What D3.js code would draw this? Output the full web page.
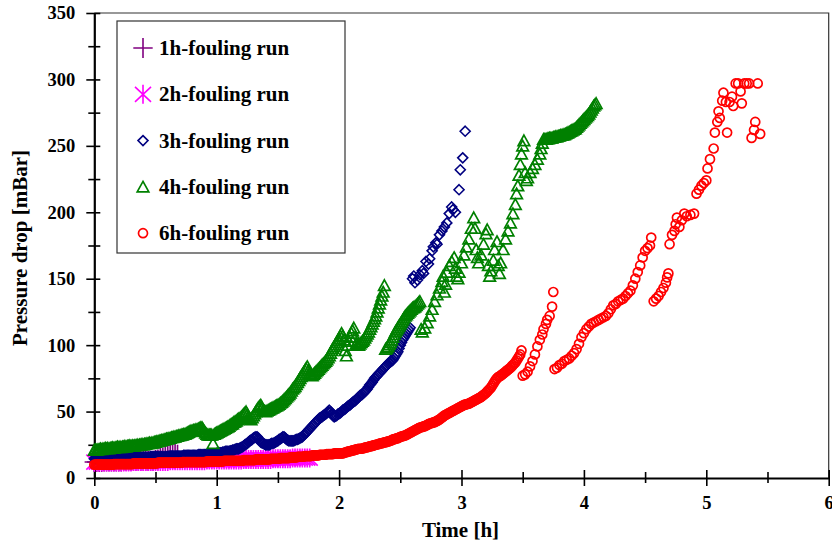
<!DOCTYPE html>
<html>
<head>
<meta charset="utf-8">
<script src="https://cdn.jsdelivr.net/npm/d3@7"></script>
<style>
  html, body { margin: 0; padding: 0; background: #fff; }
  svg { display: block; }
  text { font-family: "Liberation Serif", "Times New Roman", serif; font-weight: bold; fill: #000; }
</style>
</head>
<body>
<svg id="chart" width="832" height="544"></svg>
<script>
// Axis ticks
const xTicks = [0, 1, 2, 3, 4, 5, 6];
const xMinorTicks = [0.5, 1.5, 2.5, 3.5, 4.5, 5.5];
const yTicks = [0, 50, 100, 150, 200, 250, 300, 350];
const yMinorTicks = [25, 75, 125, 175, 225, 275, 325];

// Series names and colours
const runNames = ["1h-fouling run", "2h-fouling run", "3h-fouling run", "4h-fouling run", "6h-fouling run"];
const runColors = ["#800080", "#ff00ff", "#000080", "#008000", "#ff0000"];

// Measurements: [time (h), pressure drop (mBar)]
const run1h = [[0.00,12],[0.02,12],[0.04,12],[0.06,12],[0.08,12.5],[0.10,12.5],[0.12,12.5],[0.14,12.5],[0.16,12.5],[0.18,12.5],[0.20,12.5],[0.22,12.5],[0.24,13],[0.26,13],[0.28,13],[0.30,13],[0.32,13],[0.34,13],[0.36,13],[0.38,13],[0.40,13],[0.42,13],[0.44,13],[0.46,13],[0.48,13],[0.50,13.5],[0.52,14],[0.54,15],[0.56,15.5],[0.58,16.5],[0.60,17],[0.62,17.5],[0.64,17.5],[0.66,18],[0.68,17.5]];

const run2h = [[0.00,12],[0.02,12],[0.04,12],[0.06,12],[0.08,12],[0.10,12],[0.12,12],[0.14,12],[0.16,12],[0.18,12],[0.20,12],[0.22,12],[0.24,12],[0.26,12],[0.28,12],[0.30,12],[0.32,12.5],[0.34,12.5],[0.36,12.5],[0.38,12.5],[0.40,12.5],[0.42,12.5],[0.44,12.5],[0.46,12.5],[0.48,12.5],[0.50,12.5],[0.52,12.5],[0.54,12.5],[0.56,12.5],[0.58,12.5],[0.60,12.5],[0.62,13],[0.64,13],[0.66,13],[0.68,13],[0.70,13],[0.72,13],[0.74,13],[0.76,13],[0.78,13],[0.80,13],[0.82,13],[0.84,13],[0.86,13],[0.88,13],[0.90,13],[0.92,13.5],[0.94,13.5],[0.96,13.5],[0.98,13.5],[1.00,13.5],[1.02,13.5],[1.04,13.5],[1.06,13.5],[1.08,13.5],[1.10,13.5],[1.12,13.5],[1.14,13.5],[1.16,13.5],[1.18,13.5],[1.20,13.5],[1.22,14],[1.24,14],[1.26,14],[1.28,14],[1.30,14],[1.32,14],[1.34,14],[1.36,14],[1.38,14],[1.40,14],[1.42,14],[1.44,14],[1.46,14.5],[1.48,14.5],[1.50,14.5],[1.52,14.5],[1.54,14.5],[1.56,14.5],[1.58,14.5],[1.60,14.5],[1.62,15],[1.64,15],[1.66,15],[1.68,15],[1.70,15],[1.72,15],[1.74,15],[1.76,15]];

const run3h = [
  [0.00,14.5],[0.01,14.5],[0.02,14.5],[0.03,14.5],[0.04,14.5],[0.05,14.5],[0.06,14.5],[0.07,14.5],[0.08,14.5],[0.09,14.5],
  [0.10,14.5],[0.11,15],[0.12,15],[0.13,15],[0.14,15],[0.15,15],[0.16,15],[0.17,15],[0.18,15],[0.19,15],
  [0.20,15],[0.21,15],[0.22,15],[0.23,15],[0.24,15],[0.25,15],[0.26,15],[0.27,15],[0.28,15],[0.29,15],
  [0.30,15],[0.31,15.5],[0.32,15.5],[0.33,15.5],[0.34,15.5],[0.35,15.5],[0.36,15.5],[0.37,15.5],[0.38,15.5],[0.39,15.5],
  [0.40,15.5],[0.41,15.5],[0.42,15.5],[0.43,15.5],[0.44,15.5],[0.45,15.5],[0.46,16],[0.47,16],[0.48,16],[0.49,16],
  [0.50,16],[0.51,16],[0.52,16],[0.53,16],[0.54,16],[0.55,16],[0.56,16],[0.57,16],[0.58,16],[0.59,16],
  [0.60,16],[0.61,16.5],[0.62,16.5],[0.63,16.5],[0.64,16.5],[0.65,16.5],[0.66,16.5],[0.67,16.5],[0.68,16.5],[0.69,16.5],
  [0.70,16.5],[0.71,16.5],[0.72,16.5],[0.73,17],[0.74,17],[0.75,17],[0.76,17],[0.77,17],[0.78,17],[0.79,17],
  [0.80,17],[0.81,17],[0.82,17],[0.83,17],[0.84,17],[0.85,17.5],[0.86,17.5],[0.87,17.5],[0.88,17.5],[0.89,17.5],
  [0.90,17.5],[0.91,17.5],[0.92,17.5],[0.93,18],[0.94,18],[0.95,18],[0.96,18],[0.97,18],[0.98,18],[0.99,18],
  [1.00,18.5],[1.01,18.5],[1.02,19],[1.03,19],[1.04,19],[1.05,19.5],[1.06,19.5],[1.07,20],[1.08,20],[1.09,20],
  [1.10,20],[1.11,20.5],[1.12,20.5],[1.13,21],[1.14,21],[1.15,21.5],[1.16,22],[1.17,22],[1.18,22],[1.19,22.5],
  [1.20,23],[1.21,23.5],[1.22,24],[1.23,25],[1.24,25.5],[1.25,26],[1.26,27],[1.27,28],[1.28,28.5],[1.29,29],
  [1.30,30],[1.31,30.5],[1.32,31],[1.33,31],[1.34,30],[1.35,28.5],[1.36,27],[1.37,26.5],[1.38,26],[1.39,25.5],
  [1.40,25],[1.41,25],[1.42,25],[1.43,25],[1.44,25.5],[1.45,26],[1.46,26],[1.47,26.5],[1.48,27],[1.49,27.5],
  [1.50,28],[1.51,29],[1.52,29.5],[1.53,30],[1.54,31],[1.55,31],[1.56,30],[1.57,29],[1.58,28.5],[1.59,28],
  [1.60,28],[1.61,28],[1.62,28],[1.63,28],[1.64,28.5],[1.65,29],[1.66,29],[1.67,29.5],[1.68,30],[1.69,30.5],
  [1.70,31],[1.71,32],[1.72,33],[1.73,34],[1.74,35],[1.75,36],[1.76,37],[1.77,38],[1.78,39],[1.79,40],
  [1.80,41],[1.81,42],[1.82,43],[1.83,44],[1.84,45],[1.85,45.5],[1.86,46],[1.87,47],[1.88,47.5],[1.89,48],
  [1.90,49],[1.91,50],[1.92,51],[1.93,50],[1.94,48],[1.95,47],[1.96,46],[1.97,46.5],[1.98,47],[1.99,48],
  [2.00,48.5],[2.01,49],[2.02,50],[2.03,51],[2.04,51.5],[2.05,52],[2.06,53],[2.07,54],[2.08,54.5],[2.09,55],
  [2.10,56],[2.11,57],[2.12,57.5],[2.13,58],[2.14,59],[2.15,60],[2.16,61],[2.17,62],[2.18,62.5],[2.19,63],
  [2.20,64],[2.21,65],[2.22,66],[2.23,67],[2.24,68.5],[2.25,70],[2.26,71],[2.27,72],[2.28,73.5],[2.29,75],
  [2.30,76],[2.31,77],[2.32,78],[2.33,79],[2.34,80],[2.35,81],[2.36,82],[2.37,83],[2.38,84],[2.39,85],
  [2.40,86],[2.41,87],[2.42,87.5],[2.43,88],[2.44,89],[2.45,90.5],[2.46,92],[2.47,93.5],[2.48,95],[2.49,97.5],
  [2.50,100],[2.51,102],[2.52,104],[2.53,105.5],[2.54,107],[2.55,108.5],[2.56,110],[2.57,111.5],[2.58,113],
  [2.60,150],[2.61,152],[2.62,147],[2.64,149],[2.66,153],[2.68,156],[2.69,154],[2.71,163],[2.73,161],[2.74,165],[2.76,171],[2.77,174],[2.79,177],[2.80,176],[2.82,183],[2.84,186],[2.86,189],[2.88,192],[2.90,199],[2.92,204],[2.93,202],[2.95,200],[2.98,217],[2.99,232],[3.01,241],[3.03,261]];

const run4h = [
  [0.00,21],[0.01,21.5],[0.02,21],[0.03,21.5],[0.04,21.5],[0.05,22],[0.06,21.5],[0.07,22],[0.08,22],[0.09,22.5],
  [0.10,22],[0.11,22.5],[0.12,22],[0.13,22.5],[0.14,22.5],[0.15,23],[0.16,22.5],[0.17,23],[0.18,23],[0.19,23.5],
  [0.20,23],[0.21,23.5],[0.22,23],[0.23,23.5],[0.24,23.5],[0.25,24],[0.26,23.5],[0.27,24],[0.28,24],[0.29,24.5],
  [0.30,24],[0.31,24.5],[0.32,24],[0.33,24.5],[0.34,24.5],[0.35,25],[0.36,24.5],[0.37,25],[0.38,25],[0.39,25.5],
  [0.40,25],[0.41,25.5],[0.42,25.5],[0.43,26],[0.44,26],[0.45,26.5],[0.46,26],[0.47,26.5],[0.48,26.5],[0.49,27],
  [0.50,27],[0.51,27.5],[0.52,27.5],[0.53,28],[0.54,28],[0.55,28.5],[0.56,28.5],[0.57,29],[0.58,29],[0.59,29.5],
  [0.60,29.5],[0.61,30],[0.62,30],[0.63,30.5],[0.64,30.5],[0.65,31],[0.66,31],[0.67,31.5],[0.68,31.5],[0.69,32],
  [0.70,32],[0.71,32.5],[0.72,32.5],[0.73,33],[0.74,33],[0.75,33.5],[0.76,34],[0.77,34.5],[0.78,35],[0.79,35.5],
  [0.80,35.5],[0.81,36],[0.82,36],[0.83,36.5],[0.84,36.5],[0.85,37],[0.86,37.5],[0.87,38],[0.88,38],[0.89,36.5],
  [0.90,35],[0.91,34],[0.92,33],[0.93,32.5],[0.94,32.5],[0.95,32.5],[0.96,32.5],[0.97,26],[0.98,33],[0.99,33.5],
  [1.00,34],[1.01,34.5],[1.02,35],[1.03,35.5],[1.04,36],[1.05,36.5],[1.06,37],[1.07,37.5],[1.08,38],[1.09,38.5],
  [1.10,39],[1.11,40],[1.12,40.5],[1.13,41],[1.14,42],[1.15,42.5],[1.16,43],[1.17,44],[1.18,44.5],[1.19,45],
  [1.20,46],[1.21,47],[1.22,48],[1.23,49],[1.24,50],[1.25,48],[1.26,46],[1.27,45],[1.28,44],[1.29,45.5],
  [1.30,47],[1.31,48.5],[1.32,50],[1.33,51.5],[1.34,53],[1.35,54],[1.36,55],[1.37,53],[1.38,51],[1.39,50.5],
  [1.40,50],[1.41,50.5],[1.42,51],[1.43,51.5],[1.44,52],[1.45,52.5],[1.46,53],[1.47,53.5],[1.48,54],[1.49,54.5],
  [1.50,55],[1.51,55.5],[1.52,56.5],[1.53,57],[1.54,58],[1.55,59],[1.56,60],[1.57,61],[1.58,62],[1.59,63],
  [1.60,64],[1.61,65.5],[1.62,67],[1.63,68],[1.64,69],[1.65,70.5],[1.66,72],[1.67,73.5],[1.68,75],[1.69,76.5],
  [1.70,78],[1.71,79.5],[1.72,81],[1.73,82.5],[1.74,84],[1.75,81],[1.76,79],[1.77,78],[1.78,77],[1.79,78],
  [1.80,79],[1.81,80],[1.82,81],[1.83,82],[1.84,83],[1.85,84],[1.86,85],[1.87,86],[1.88,87],[1.89,88],
  [1.90,89],[1.91,90.5],[1.92,92],[1.93,94],[1.94,96],[1.95,97.5],[1.96,99],[1.97,100.5],[1.98,102],[1.99,103.5],
  [2.00,105],[2.01,107],[2.02,109],[2.03,107],[2.04,104],[2.05,96],[2.06,92],[2.07,100],[2.08,103],[2.09,106],
  [2.10,109],[2.11,111],[2.12,113],[2.13,106],[2.14,101],[2.15,100],[2.16,100],[2.17,101],[2.18,102],[2.19,103],
  [2.20,104],[2.21,105.5],[2.22,107],[2.23,108.5],[2.24,110],[2.25,112],[2.26,114],[2.27,116],[2.28,118],[2.29,120],
  [2.30,122],[2.31,125],[2.32,128],[2.33,131],[2.34,134],[2.35,137],[2.36,140],[2.37,145],
  [2.38,97],[2.39,98],[2.40,99],[2.41,100.5],[2.42,102],[2.43,104],[2.44,106],[2.45,108],[2.46,110],[2.47,111.5],
  [2.48,113],[2.49,114.5],[2.50,116],[2.51,117.5],[2.52,119],[2.53,120.5],[2.54,122],[2.55,123],[2.56,124],[2.57,125],
  [2.58,126],[2.59,127],[2.60,128],[2.61,128.5],[2.62,129],[2.63,130],[2.64,131],[2.65,132],[2.66,133],
  [2.67,112],[2.68,110],[2.70,113],[2.72,117],[2.74,122],[2.76,127],[2.78,133],[2.80,138],[2.82,143],[2.84,148],[2.85,152],[2.86,140],[2.87,146],[2.88,155],[2.90,160],[2.92,163],[2.94,166],[2.95,158],[2.96,152],[2.97,150],[2.98,155],[3.00,162],[3.02,168],[3.04,174],[3.06,180],[3.08,188],[3.10,196],[3.11,188],[3.12,172],[3.13,166],[3.14,162],[3.16,168],[3.18,176],[3.20,184],[3.21,187],[3.22,160],[3.23,152],[3.24,156],[3.26,164],[3.27,172],[3.29,178],[3.30,160],[3.31,154],[3.32,162],[3.34,172],[3.36,180],[3.38,186],[3.40,192],[3.42,199],[3.44,206],[3.45,214],[3.46,220],[3.47,228],[3.48,236],[3.49,244],[3.50,250],[3.51,254],[3.52,230],[3.53,224],[3.54,226],[3.56,230],[3.58,233],[3.60,236],[3.62,240],[3.64,244],[3.65,248],[3.66,252],[3.67,255],
  [3.68,255],[3.69,255],[3.70,255.5],[3.71,255.5],[3.72,256],[3.73,256],[3.74,256],[3.75,256.5],[3.76,256.5],[3.77,257],[3.78,257],[3.79,257.5],[3.80,257.5],[3.81,258],[3.82,258],[3.83,258.5],[3.84,258.5],[3.85,259],[3.86,259.5],[3.87,260],[3.88,260.5],[3.89,261],[3.90,261.5],[3.91,262],[3.92,262.5],[3.93,263],[3.94,264],[3.95,265],[3.96,266],[3.97,267],[3.98,268],[3.99,269],[4.00,270],[4.01,271],[4.02,272],[4.03,273],[4.04,274],[4.05,275.5],[4.06,277],[4.07,278.5],[4.08,280],[4.09,281],[4.10,282]];

const run6h = [
  [0.00,10],[0.01,10],[0.02,10],[0.03,10],[0.04,10],[0.05,10],[0.06,10],[0.07,10],[0.08,10],[0.09,10],
  [0.10,10],[0.11,10],[0.12,10],[0.13,10],[0.14,10],[0.15,10],[0.16,10.5],[0.17,10.5],[0.18,10.5],[0.19,10.5],
  [0.20,10.5],[0.21,10.5],[0.22,10.5],[0.23,10.5],[0.24,10.5],[0.25,10.5],[0.26,10.5],[0.27,10.5],[0.28,10.5],[0.29,10.5],
  [0.30,10.5],[0.31,10.5],[0.32,11],[0.33,11],[0.34,11],[0.35,11],[0.36,11],[0.37,11],[0.38,11],[0.39,11],
  [0.40,11],[0.41,11],[0.42,11],[0.43,11],[0.44,11],[0.45,11],[0.46,11],[0.47,11],[0.48,11],[0.49,11],
  [0.50,11],[0.51,11],[0.52,11.5],[0.53,11.5],[0.54,11.5],[0.55,11.5],[0.56,11.5],[0.57,11.5],[0.58,11.5],[0.59,11.5],
  [0.60,11.5],[0.61,11.5],[0.62,11.5],[0.63,11.5],[0.64,11.5],[0.65,11.5],[0.66,11.5],[0.67,11.5],[0.68,11.5],[0.69,11.5],
  [0.70,11.5],[0.71,11.5],[0.72,12],[0.73,12],[0.74,12],[0.75,12],[0.76,12],[0.77,12],[0.78,12],[0.79,12],
  [0.80,12],[0.81,12],[0.82,12],[0.83,12],[0.84,12],[0.85,12],[0.86,12],[0.87,12],[0.88,12],[0.89,12],
  [0.90,12],[0.91,12],[0.92,12.5],[0.93,12.5],[0.94,12.5],[0.95,12.5],[0.96,12.5],[0.97,12.5],[0.98,12.5],[0.99,12.5],
  [1.00,12.5],[1.01,12.5],[1.02,12.5],[1.03,12.5],[1.04,12.5],[1.05,12.5],[1.06,13],[1.07,13],[1.08,13],[1.09,13],
  [1.10,13],[1.11,13],[1.12,13],[1.13,13],[1.14,13],[1.15,13],[1.16,13],[1.17,13],[1.18,13],[1.19,13],
  [1.20,13],[1.21,13],[1.22,13.5],[1.23,13.5],[1.24,13.5],[1.25,13.5],[1.26,13.5],[1.27,13.5],[1.28,13.5],[1.29,13.5],
  [1.30,13.5],[1.31,13.5],[1.32,14],[1.33,14],[1.34,14],[1.35,14],[1.36,14],[1.37,14],[1.38,14],[1.39,14],
  [1.40,14],[1.41,14],[1.42,14],[1.43,14],[1.44,14.5],[1.45,14.5],[1.46,14.5],[1.47,14.5],[1.48,14.5],[1.49,14.5],
  [1.50,14.5],[1.51,14.5],[1.52,15],[1.53,15],[1.54,15],[1.55,15],[1.56,15],[1.57,15],[1.58,15],[1.59,15],
  [1.60,15.5],[1.61,15.5],[1.62,15.5],[1.63,15.5],[1.64,15.5],[1.65,15.5],[1.66,16],[1.67,16],[1.68,16],[1.69,16],
  [1.70,16],[1.71,16],[1.72,16.5],[1.73,16.5],[1.74,16.5],[1.75,16.5],[1.76,16.5],[1.77,16.5],[1.78,17],[1.79,17],
  [1.80,17],[1.81,17],[1.82,17],[1.83,17],[1.84,17.5],[1.85,17.5],[1.86,17.5],[1.87,17.5],[1.88,17.5],[1.89,17.5],
  [1.90,18],[1.91,18],[1.92,18],[1.93,18],[1.94,18],[1.95,18],[1.96,18.5],[1.97,18.5],[1.98,18.5],[1.99,18.5],
  [2.00,18.5],[2.01,18.5],[2.02,18.5],[2.03,18.5],[2.04,19],[2.05,19.2],[2.06,19.5],[2.07,19.8],[2.08,20],[2.09,20.2],
  [2.10,20.5],[2.11,20.8],[2.12,21],[2.13,21.2],[2.14,21.5],[2.15,21.8],[2.16,22],[2.17,22],[2.18,22],[2.19,22.2],
  [2.20,22.5],[2.21,22.8],[2.22,23],[2.23,23.2],[2.24,23.5],[2.25,23.8],[2.26,24],[2.27,24.2],[2.28,24.5],[2.29,24.8],
  [2.30,25],[2.31,25.2],[2.32,25.5],[2.33,25.8],[2.34,26],[2.35,26.2],[2.36,26.5],[2.37,26.8],[2.38,27],[2.39,27.2],
  [2.40,27.5],[2.41,27.8],[2.42,28],[2.43,28.5],[2.44,29],[2.45,29.2],[2.46,29.5],[2.47,29.8],[2.48,30],[2.49,30.5],
  [2.50,31],[2.51,31.2],[2.52,31.5],[2.53,31.8],[2.54,32],[2.55,32.5],[2.56,33],[2.57,33.5],[2.58,34],[2.59,34.5],
  [2.60,35],[2.61,35.5],[2.62,36],[2.63,36.5],[2.64,37],[2.65,37.5],[2.66,38],[2.67,38.2],[2.68,38.5],[2.69,38.8],
  [2.70,39],[2.71,39.5],[2.72,40],[2.73,40.5],[2.74,41],[2.75,41.2],[2.76,41.5],[2.77,41.8],[2.78,42],[2.79,42.5],
  [2.80,43],[2.81,43.5],[2.82,44],[2.83,44.8],[2.84,45.5],[2.85,46.2],[2.86,47],[2.87,47.5],[2.88,48],[2.89,48.5],
  [2.90,49],[2.91,49.5],[2.92,50],[2.93,50.5],[2.94,51],[2.95,51.5],[2.96,52],[2.97,52.5],[2.98,53],[2.99,53.5],
  [3.00,54],[3.01,54.5],[3.02,55],[3.03,55.2],[3.04,55.5],[3.05,55.8],[3.06,56],[3.07,56.5],[3.08,57],[3.09,57.5],
  [3.10,58],[3.11,58.5],[3.12,59],[3.13,59.5],[3.14,60],[3.15,60.5],[3.16,61],[3.17,61.8],[3.18,62.5],[3.19,63.2],
  [3.20,64],[3.21,65],[3.22,66],[3.23,67],[3.24,68],[3.25,69.5],[3.26,71],[3.27,72.5],[3.28,74],[3.29,75],
  [3.30,76],[3.31,76.5],[3.32,77],[3.33,77.8],[3.34,78.5],[3.35,79.2],[3.36,80],[3.37,80.8],[3.38,81.5],[3.39,82.2],
  [3.40,83],[3.41,84],[3.42,85],[3.43,86],[3.44,87],[3.45,88.5],[3.46,90],[3.47,91.5],[3.48,93],[3.49,96],
  [3.50,77],[3.52,78],[3.54,80],[3.56,84],[3.58,88],[3.60,93],[3.62,99],[3.64,104],[3.66,108],[3.67,112],[3.69,116],[3.70,119],[3.72,122],[3.74,129],[3.75,140],
  [3.76,82],[3.78,83],[3.80,85],[3.82,86],[3.84,88],[3.86,89],[3.88,90],[3.90,92],[3.92,94],[3.94,97],[3.96,101],[3.98,106],[4.00,109],[4.02,112],[4.04,114],[4.06,116],[4.08,117],[4.10,118],[4.12,119],[4.14,120],[4.16,121],[4.18,122],[4.20,124],[4.22,127],[4.24,130],[4.26,131],[4.28,133],[4.30,134],[4.32,135],[4.34,137],[4.36,139],[4.38,141],[4.40,145],[4.42,150],[4.44,155],[4.46,160],[4.48,166],[4.50,171],[4.52,173],[4.54,175],[4.55,181],
  [4.57,133],[4.59,135],[4.61,137],[4.63,140],[4.65,143],[4.67,147],[4.68,151],[4.69,154],
  [4.70,176],[4.72,183],[4.74,186],[4.75,191],[4.76,196],[4.78,189],[4.80,194],[4.82,199],[4.84,197],[4.87,198],[4.90,199],[4.92,214],[4.94,217],[4.96,220],[4.98,222],[5.00,224],[5.01,233],[5.03,240],[5.06,248],[5.07,260],[5.09,268],[5.10,276],[5.11,271],[5.13,284],[5.14,290],[5.16,283],[5.17,260],[5.19,283],[5.21,287],[5.22,280],[5.24,297],[5.26,297],[5.28,291],[5.29,282],[5.31,297],[5.33,297],[5.35,297],[5.37,256],[5.39,262],[5.40,268],[5.42,297],[5.44,259]];

const runs = [run1h, run2h, run3h, run4h, run6h];

// Marker outlines, centred on the data point
const markerPaths = [
  "M-9.7,0H9.7M0,-10V10",                                  // plus
  "M0,-9.5V9.5M-8,-7.5L8,7.5M-8,7.5L8,-7.5",               // asterisk
  "M0,-5L5,0L0,5L-5,0Z",                                    // diamond
  "M0,-5.5L5.8,5L-5.8,5Z",                                  // triangle
  d3.symbol(d3.symbolCircle, Math.PI * 4.5 * 4.5)()         // circle
];
const markerStroke = [1.6, 1.6, 1.6, 1.7, 1.7];

const svg = d3.select("#chart");
const x = d3.scaleLinear().domain([0, 6]).range([94.3, 828.7]);
const y = d3.scaleLinear().domain([0, 350]).range([478, 13]);

// Thin top and right frame
svg.append("path")
  .attr("d", `M${x(0)},${y(350)}H${x(6)}V${y(0)}`)
  .attr("fill", "none").attr("stroke", "#333").attr("stroke-width", 1.2);

function styleAxis(g) {
  g.attr("font-size", null).attr("font-family", null);
  g.selectAll("line").attr("stroke", "#000").attr("stroke-width", 1.6);
  g.select(".domain").attr("stroke", "#000").attr("stroke-width", 2.2);
  g.selectAll("text").attr("font-size", 18.5);
}

// Y axis: minor ticks, then major ticks with labels
const yMinor = svg.append("g").attr("transform", `translate(${x(0)},0)`)
  .call(d3.axisLeft(y).tickValues(yMinorTicks).tickSize(6).tickFormat(""));
yMinor.select(".domain").remove();
yMinor.selectAll(".tick line").attr("x1", 6).attr("x2", -6).attr("stroke", "#000").attr("stroke-width", 1.6);

const yAxis = svg.append("g").attr("transform", `translate(${x(0)},0)`)
  .call(d3.axisLeft(y).tickValues(yTicks).tickFormat(d3.format("d")).tickSize(8).tickSizeOuter(0).tickPadding(11));
styleAxis(yAxis);
yAxis.selectAll(".tick line").attr("x1", 6).attr("x2", -8);

// X axis: minor ticks, then major ticks with labels
const xMinor = svg.append("g").attr("transform", `translate(0,${y(0)})`)
  .call(d3.axisBottom(x).tickValues(xMinorTicks).tickSize(5).tickFormat(""));
xMinor.select(".domain").remove();
xMinor.selectAll(".tick line").attr("y1", -6).attr("y2", 5).attr("stroke", "#000").attr("stroke-width", 1.6);

const xAxis = svg.append("g").attr("transform", `translate(0,${y(0)})`)
  .call(d3.axisBottom(x).tickValues(xTicks).tickFormat(d3.format("d")).tickSize(8).tickSizeOuter(0).tickPadding(9.4));
styleAxis(xAxis);
xAxis.selectAll(".tick line").attr("y1", -8).attr("y2", 8);

// Axis titles
svg.append("text")
  .attr("x", 460.5).attr("y", 537)
  .attr("text-anchor", "middle").attr("font-size", 21)
  .text("Time [h]");
svg.append("text")
  .attr("transform", "translate(27,248) rotate(-90)")
  .attr("text-anchor", "middle").attr("font-size", 21)
  .text("Pressure drop [mBar]");

// Data markers, drawn in series order
runs.forEach((run, i) => {
  svg.append("g")
    .attr("fill", "none")
    .attr("stroke", runColors[i])
    .attr("stroke-width", markerStroke[i])
    .selectAll("path")
    .data(run)
    .join("path")
    .attr("transform", d => `translate(${x(d[0])},${y(d[1])})`)
    .attr("d", markerPaths[i]);
});

// Legend
const legend = svg.append("g");
legend.append("rect")
  .attr("x", 117).attr("y", 21).attr("width", 228).attr("height", 232)
  .attr("fill", "#fff").attr("stroke", "#333").attr("stroke-width", 1.2);
const legendItems = legend.selectAll("g.item")
  .data(runNames)
  .join("g")
  .attr("class", "item")
  .attr("transform", (d, i) => `translate(143,${48 + i * 46.3})`);
legendItems.append("path")
  .attr("d", (d, i) => markerPaths[i])
  .attr("fill", "none")
  .attr("stroke", (d, i) => runColors[i])
  .attr("stroke-width", (d, i) => markerStroke[i]);
legendItems.append("text")
  .attr("x", 16).attr("y", 7)
  .attr("font-size", 21)
  .text(d => d);
</script>
</body>
</html>
